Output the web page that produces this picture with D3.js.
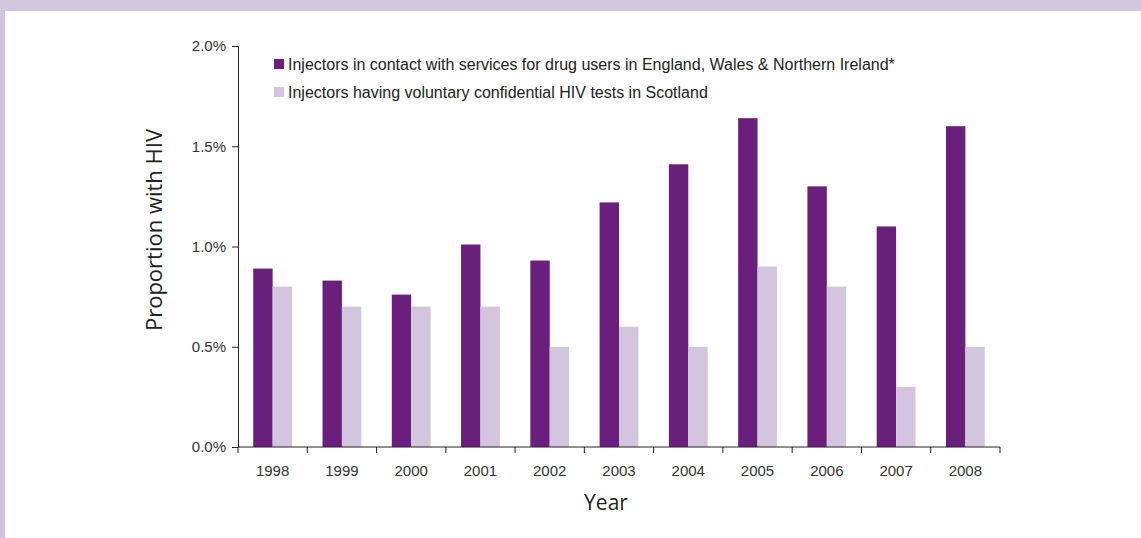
<!DOCTYPE html>
<html>
<head>
<meta charset="utf-8">
<script src="https://cdn.jsdelivr.net/npm/d3@7"></script>
<style>
body{margin:0;background:#fff;}
</style>
</head>
<body>
<div class="canvas"></div>
<script>
const years=['1998','1999','2000','2001','2002','2003','2004','2005','2006','2007','2008'];
const ewni=[0.89,0.83,0.76,1.01,0.93,1.22,1.41,1.64,1.30,1.10,1.60];
const scotland=[0.8,0.7,0.7,0.7,0.5,0.6,0.5,0.9,0.8,0.3,0.5];
const seriesNames=['Injectors in contact with services for drug users in England, Wales & Northern Ireland*','Injectors having voluntary confidential HIV tests in Scotland'];
const yTicks=[0,0.5,1.0,1.5,2.0];

const colors=['#6a1f7d','#d4c5df'];

const svg=d3.select('.canvas').append('svg')
.attr('width',1141)
.attr('height',538);

// border band
svg.append('rect').attr('x',0).attr('y',0).attr('width',1141).attr('height',11).attr('fill','#d4c5df');
svg.append('rect').attr('x',0).attr('y',0).attr('width',5).attr('height',538).attr('fill','#d4c5df');

const margin={left:238,top:46,right:141,bottom:91};
const graphWidth=1141-margin.left-margin.right;
const graphHeight=538-margin.top-margin.bottom;

const graph=svg.append('g')
.attr('transform',`translate(${margin.left},${margin.top})`);

const y=d3.scaleLinear().domain([0,2]).range([graphHeight,0]);
const x=d3.scaleBand().domain(years).range([0,graphWidth]).paddingInner(0).paddingOuter(0);
const x1=d3.scaleBand().domain([0,1]).range([x.bandwidth()*0.22,x.bandwidth()*0.78]);

const data=years.map((yr,i)=>({year:yr,vals:[ewni[i],scotland[i]]}));

const groups=graph.selectAll('g.yr').data(data).enter().append('g')
.attr('transform',d=>`translate(${x(d.year)},0)`);

groups.selectAll('rect').data(d=>d.vals).enter().append('rect')
.attr('x',(d,i)=>x1(i))
.attr('width',x1.bandwidth())
.attr('y',d=>y(d))
.attr('height',d=>graphHeight-y(d))
.attr('fill',(d,i)=>colors[i]);

// axes
const yAxis=d3.axisLeft(y).tickValues(yTicks).tickSize(6).tickPadding(6).tickFormat(d=>d.toFixed(1)+'%');
const yG=graph.append('g').call(yAxis);
const xG=graph.append('g').attr('transform',`translate(0,${graphHeight})`);

xG.append('line').attr('x1',0).attr('x2',graphWidth).attr('y1',0).attr('y2',0).attr('stroke','#222');
xG.selectAll('line.tk').data(d3.range(years.length+1)).enter().append('line')
.attr('class','tk')
.attr('x1',i=>i*x.step()).attr('x2',i=>i*x.step())
.attr('y1',0).attr('y2',6).attr('stroke','#222');
xG.selectAll('text').data(years).enter().append('text')
.attr('x',d=>x(d)+x.bandwidth()/2)
.attr('y',29)
.attr('text-anchor','middle')
.attr('font-family','Liberation Sans, Arial, sans-serif')
.attr('font-size',15)
.attr('fill','#333')
.text(d=>d);

yG.select('.domain').attr('stroke','#222');
yG.selectAll('.tick line').attr('stroke','#222');
yG.selectAll('text')
.attr('font-family','Liberation Sans, Arial, sans-serif')
.attr('font-size',15)
.attr('fill','#333');

// axis titles
svg.append('text')
.attr('transform','translate(162,230) rotate(-90)')
.attr('text-anchor','middle')
.attr('font-family','Open Sans, sans-serif')
.attr('font-size',22)
.attr('fill','#222')
.text('Proportion with HIV');

svg.append('text')
.attr('x',606).attr('y',510)
.attr('text-anchor','middle')
.attr('font-family','Open Sans, sans-serif')
.attr('font-size',21)
.attr('fill','#222')
.text('Year');

// legend
const legend=svg.append('g').attr('transform','translate(274,59)');
seriesNames.forEach((name,i)=>{
  legend.append('rect').attr('x',0).attr('y',i*28).attr('width',10).attr('height',10).attr('fill',colors[i]);
  legend.append('text').attr('x',14).attr('y',i*28+11)
  .attr('font-family','Liberation Sans, Arial, sans-serif')
  .attr('font-size',16)
  .attr('fill','#222')
  .text(name);
});
</script>
</body>
</html>
